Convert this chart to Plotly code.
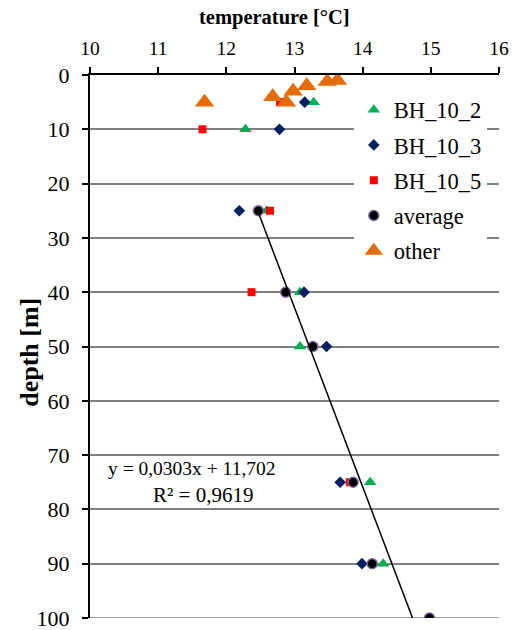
import plotly.graph_objects as go

# ---- data ----
bh2_temp = [13.28, 12.28, 12.59, 13.08, 13.08, 14.11, 14.30, 15.00]
bh2_depth = [5, 10, 25, 40, 50, 75, 90, 100]

bh3_temp = [13.15, 12.78, 12.19, 13.14, 13.47, 13.67, 13.99]
bh3_depth = [5, 10, 25, 40, 50, 75, 90]

bh5_temp = [12.79, 11.65, 12.64, 12.37, 13.81]
bh5_depth = [5, 10, 25, 40, 75]

avg_temp = [12.47, 12.87, 13.27, 13.86, 14.14, 14.98]
avg_depth = [25, 40, 50, 75, 90, 100]

other_temp = [11.68, 12.68, 12.88, 12.98, 13.18, 13.48, 13.63]
other_depth = [5, 4, 5, 3, 2, 1.2, 1.0]

trend_slope = 0.0303
trend_intercept = 11.702
trend_depth = [25, 100]

x_ticks = [10, 11, 12, 13, 14, 15, 16]
y_ticks = [0, 10, 20, 30, 40, 50, 60, 70, 80, 90, 100]

FONT = "'Liberation Serif', 'Times New Roman', Times, serif"

fig = go.Figure()
fig.add_trace(go.Scatter(x=bh2_temp, y=bh2_depth, mode="markers", name="BH_10_2",
                         legendgroup="a",
                         marker=dict(symbol="triangle-up", size=11, color="#00B050")))
fig.add_trace(go.Scatter(x=bh3_temp, y=bh3_depth, mode="markers", name="BH_10_3",
                         legendgroup="b",
                         marker=dict(symbol="diamond", size=9, color="#002060")))
fig.add_trace(go.Scatter(x=bh5_temp, y=bh5_depth, mode="markers", name="BH_10_5",
                         legendgroup="c",
                         marker=dict(symbol="square", size=8, color="#FF0000")))
fig.add_trace(go.Scatter(x=avg_temp, y=avg_depth, mode="markers", name="average",
                         legendgroup="d",
                         marker=dict(symbol="circle", size=10, color="#000000",
                                     line=dict(color="#8064A2", width=1.5))))
fig.add_trace(go.Scatter(x=other_temp, y=other_depth, mode="markers", name="other",
                         legendgroup="e",
                         marker=dict(symbol="triangle-up", size=17, color="#E46C0A")))
fig.add_trace(go.Scatter(x=[trend_intercept + trend_slope * d for d in trend_depth],
                         y=trend_depth, mode="lines", showlegend=False,
                         line=dict(color="#000000", width=1.5)))

# grid line at the bottom edge of the depth axis
fig.add_hline(y=y_ticks[-1], line=dict(color="#808080", width=1.5), layer="below")

fig.add_annotation(x=10.24, y=72.4, xref="x", yref="y", xanchor="left", yanchor="middle",
                   text="y = 0,0303x + 11,702", showarrow=False,
                   font=dict(family=FONT, size=19.5, color="#000"))
fig.add_annotation(x=10.90, y=77.4, xref="x", yref="y", xanchor="left", yanchor="middle",
                   text="R² = 0,9619", showarrow=False,
                   font=dict(family=FONT, size=21, color="#000"))

# axis titles
fig.add_annotation(x=0.45, y=1.105, xref="paper", yref="paper", xanchor="center", yanchor="middle",
                   text="<b>temperature [°C]</b>", showarrow=False,
                   font=dict(family=FONT, size=20.5, color="#000"))
fig.add_annotation(x=-0.147, y=0.49, xref="paper", yref="paper", xanchor="center", yanchor="middle",
                   text="<b>depth [m]</b>", showarrow=False, textangle=-90,
                   font=dict(family=FONT, size=26, color="#000"))

fig.update_layout(
    width=521, height=630,
    margin=dict(l=90, r=22, t=75, b=12, autoexpand=False),
    paper_bgcolor="white", plot_bgcolor="white",
    font=dict(family=FONT, size=20, color="#000"),
    showlegend=True,
    legend=dict(x=0.645, y=0.975, xanchor="left", yanchor="top",
                bgcolor="white", borderwidth=0,
                font=dict(family=FONT, size=22.5, color="#000"),
                tracegroupgap=3, itemwidth=30),
    xaxis=dict(range=[10, 16], side="top", tickvals=x_ticks, automargin=False,
               showgrid=False, zeroline=False,
               showline=True, linecolor="#000", linewidth=2,
               tickfont=dict(family=FONT, size=19.5),
               ticks="outside", ticklen=6, tickwidth=2, tickcolor="#000",
               ticklabelstandoff=4),
    yaxis=dict(range=[100.001, 0], tickvals=y_ticks, automargin=False,
               showgrid=True, gridcolor="#808080", gridwidth=1.5,
               zeroline=False,
               showline=True, linecolor="#000", linewidth=2,
               tickfont=dict(family=FONT, size=22),
               ticklabeloverflow="allow",
               ticks="outside", ticklen=6, tickwidth=2, tickcolor="#000",
               ticklabelstandoff=8),
)

fig.write_html("out.html")
